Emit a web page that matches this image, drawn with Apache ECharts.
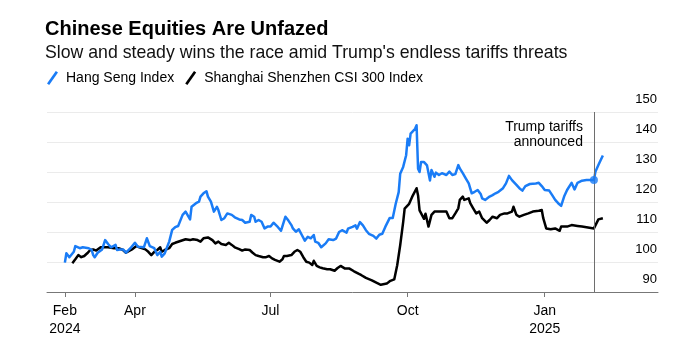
<!DOCTYPE html>
<html>
<head>
<meta charset="utf-8">
<script src="https://cdn.jsdelivr.net/npm/echarts@6/dist/echarts.min.js"></script>
<style>
  html, body { margin: 0; padding: 0; background: #fff; }
  #chart { width: 686px; height: 351px; }
</style>
</head>
<body>
<div id="chart"></div>
<script>
// Hang Seng Index, rebased
const hsDates = [
  '2024-02-14','2024-02-15','2024-02-17','2024-02-20','2024-02-21','2024-02-24','2024-02-26','2024-03-01',
  '2024-03-03','2024-03-04','2024-03-05','2024-03-07','2024-03-10','2024-03-12','2024-03-14','2024-03-16',
  '2024-03-19','2024-03-20','2024-03-22','2024-03-24','2024-03-26','2024-03-29','2024-04-01','2024-04-03',
  '2024-04-07','2024-04-09','2024-04-11','2024-04-14','2024-04-16','2024-04-18','2024-04-19','2024-04-21',
  '2024-04-24','2024-04-26','2024-04-28','2024-04-30','2024-05-03','2024-05-05','2024-05-06','2024-05-08',
  '2024-05-09','2024-05-12','2024-05-14','2024-05-15','2024-05-17','2024-05-19','2024-05-20','2024-05-22',
  '2024-05-24','2024-05-26','2024-05-27','2024-05-29','2024-05-31','2024-06-02','2024-06-05','2024-06-07',
  '2024-06-10','2024-06-12','2024-06-14','2024-06-17','2024-06-18','2024-06-20','2024-06-21','2024-06-23',
  '2024-06-25','2024-06-27','2024-06-29','2024-07-01','2024-07-03','2024-07-06','2024-07-08','2024-07-09',
  '2024-07-11','2024-07-13','2024-07-15','2024-07-16','2024-07-18','2024-07-20','2024-07-22','2024-07-24',
  '2024-07-26','2024-07-28','2024-07-30','2024-07-31','2024-08-02','2024-08-04','2024-08-07','2024-08-09',
  '2024-08-12','2024-08-14','2024-08-16','2024-08-18','2024-08-21','2024-08-22','2024-08-25','2024-08-27',
  '2024-08-28','2024-08-30','2024-09-01','2024-09-03','2024-09-05','2024-09-08','2024-09-10','2024-09-12',
  '2024-09-14','2024-09-16','2024-09-19','2024-09-21','2024-09-23','2024-09-25','2024-09-26','2024-09-28',
  '2024-09-30','2024-10-01','2024-10-02','2024-10-03','2024-10-06','2024-10-07','2024-10-08','2024-10-09',
  '2024-10-10','2024-10-12','2024-10-14','2024-10-16','2024-10-17','2024-10-19','2024-10-20','2024-10-22',
  '2024-10-24','2024-10-27','2024-10-29','2024-10-31','2024-11-02','2024-11-04','2024-11-05','2024-11-07',
  '2024-11-09','2024-11-11','2024-11-13','2024-11-15','2024-11-17','2024-11-19','2024-11-20','2024-11-22',
  '2024-11-25','2024-11-27','2024-11-29','2024-12-01','2024-12-04','2024-12-06','2024-12-08','2024-12-10',
  '2024-12-11','2024-12-13','2024-12-15','2024-12-17','2024-12-19','2024-12-22','2024-12-26','2024-12-28',
  '2024-12-30','2025-01-01','2025-01-04','2025-01-06','2025-01-08','2025-01-10','2025-01-12','2025-01-14',
  '2025-01-16','2025-01-19','2025-01-21','2025-01-23','2025-01-26','2025-01-29','2025-02-03','2025-02-04',
  '2025-02-06','2025-02-09'
];
const hsValues = [
  99.8, 102.9, 101.6, 103.4, 105.3, 104.6, 104.9, 104.6,
  104.0, 102.3, 101.6, 103.1, 104.2, 107.3, 106.0, 104.9,
  105.7, 104.0, 104.2, 104.2, 103.1, 104.6, 106.4, 105.1,
  104.9, 107.9, 105.3, 104.6, 102.3, 103.4, 101.8, 102.9,
  106.8, 110.7, 111.6, 112.0, 115.7, 116.8, 116.4, 114.2,
  118.4, 119.6, 120.1, 121.8, 122.9, 123.6, 121.8, 120.1,
  116.8, 118.4, 117.3, 114.0, 114.6, 116.2, 115.7, 114.9,
  114.2, 114.0, 113.1, 113.4, 115.7, 115.1, 113.4, 114.0,
  113.4, 111.2, 111.8, 111.8, 113.1, 111.6, 110.4, 110.1,
  115.1, 113.8, 112.3, 111.2, 110.1, 110.9, 109.0, 107.1,
  108.4, 107.9, 109.0, 106.8, 106.4, 104.9, 106.2, 107.6,
  107.3, 107.8, 110.0, 110.6, 109.8, 111.1, 111.7, 112.2,
  111.1, 113.3, 112.2, 110.6, 109.4, 108.7, 107.8, 109.1,
  109.4, 111.7, 114.7, 114.7, 119.4, 123.3, 129.4, 131.7,
  135.6, 141.1, 138.9, 142.8, 144.4, 145.6, 131.1, 130.0,
  133.3, 133.3, 132.2, 127.2, 130.7, 128.4, 129.8, 129.0,
  129.6, 129.0, 130.1, 129.0, 129.3, 132.3, 131.2, 129.6,
  127.9, 126.2, 122.9, 123.4, 124.0, 122.7, 121.2, 120.7,
  121.8, 122.3, 122.9, 123.4, 124.6, 126.2, 128.7, 127.3,
  126.8, 125.7, 124.6, 123.8, 125.3, 126.0, 126.2, 126.4,
  125.3, 124.0, 123.8, 122.3, 120.7, 119.6, 118.7, 121.8,
  124.0, 126.4, 124.2, 126.4, 127.1, 127.3, 127.3, 130.1,
  132.3, 135.5
];

// Shanghai Shenzhen CSI 300 Index, rebased
const csiDates = [
  '2024-02-19','2024-02-21','2024-02-23','2024-02-25','2024-02-27','2024-02-29','2024-03-02','2024-03-04',
  '2024-03-06','2024-03-09','2024-03-12','2024-03-14','2024-03-18','2024-03-21','2024-03-24','2024-03-26',
  '2024-03-30','2024-04-02','2024-04-04','2024-04-08','2024-04-10','2024-04-12','2024-04-14','2024-04-16',
  '2024-04-18','2024-04-19','2024-04-21','2024-04-24','2024-04-26','2024-04-28','2024-05-02','2024-05-05',
  '2024-05-08','2024-05-10','2024-05-13','2024-05-15','2024-05-17','2024-05-20','2024-05-23','2024-05-25',
  '2024-05-27','2024-05-29','2024-06-01','2024-06-03','2024-06-05','2024-06-07','2024-06-10','2024-06-12',
  '2024-06-14','2024-06-17','2024-06-19','2024-06-21','2024-06-23','2024-06-26','2024-06-28','2024-06-30',
  '2024-07-02','2024-07-04','2024-07-07','2024-07-09','2024-07-10','2024-07-12','2024-07-15','2024-07-17',
  '2024-07-19','2024-07-21','2024-07-23','2024-07-25','2024-07-27','2024-07-29','2024-07-30','2024-08-01',
  '2024-08-03','2024-08-05','2024-08-08','2024-08-10','2024-08-13','2024-08-15','2024-08-17','2024-08-20',
  '2024-08-23','2024-08-26','2024-08-29','2024-08-31','2024-09-03','2024-09-07','2024-09-10','2024-09-13',
  '2024-09-17','2024-09-19','2024-09-22','2024-09-24','2024-09-26','2024-09-28','2024-09-29','2024-10-02',
  '2024-10-04','2024-10-07','2024-10-08','2024-10-09','2024-10-10','2024-10-12','2024-10-13','2024-10-15',
  '2024-10-17','2024-10-19','2024-10-20','2024-10-22','2024-10-24','2024-10-27','2024-10-29','2024-10-31',
  '2024-11-02','2024-11-04','2024-11-05','2024-11-07','2024-11-08','2024-11-11','2024-11-12','2024-11-14',
  '2024-11-16','2024-11-18','2024-11-20','2024-11-23','2024-11-25','2024-11-27','2024-11-30','2024-12-02',
  '2024-12-05','2024-12-07','2024-12-10','2024-12-11','2024-12-13','2024-12-15','2024-12-18','2024-12-21',
  '2024-12-24','2024-12-28','2024-12-30','2024-12-31','2025-01-02','2025-01-05','2025-01-08','2025-01-11',
  '2025-01-12','2025-01-16','2025-01-19','2025-01-23','2025-01-26','2025-01-29','2025-02-03','2025-02-04',
  '2025-02-06','2025-02-09'
];
const csiValues = [
  99.6, 100.9, 102.3, 101.6, 102.0, 102.9, 104.0, 104.2,
  103.8, 104.9, 104.9, 104.9, 104.6, 104.6, 104.0, 103.1,
  104.2, 105.3, 104.9, 104.2, 103.4, 102.3, 103.4, 104.0,
  104.9, 103.4, 104.0, 104.6, 106.0, 106.4, 107.1, 107.6,
  107.3, 107.6, 107.3, 106.8, 107.9, 108.2, 107.3, 106.2,
  106.8, 106.0, 105.7, 106.4, 105.7, 104.9, 104.3, 103.8,
  104.2, 104.0, 103.1, 102.3, 102.0, 101.6, 101.6, 102.0,
  101.2, 100.7, 100.1, 100.9, 102.0, 102.0, 102.3, 103.4,
  104.0, 103.4, 101.6, 100.1, 99.8, 99.0, 100.4, 98.7,
  98.2, 97.9, 97.6, 97.6, 97.1, 98.0, 98.7, 97.8,
  97.8, 96.9, 96.1, 95.6, 94.7, 93.9, 93.1, 92.4,
  92.8, 93.6, 94.2, 98.9, 105.6, 113.3, 117.8, 119.4,
  121.7, 124.6, 122.2, 117.2, 116.7, 114.4, 116.1, 111.8,
  115.7, 116.8, 116.2, 116.8, 116.8, 116.8, 114.6, 114.6,
  116.2, 117.9, 120.7, 121.8, 120.7, 121.2, 119.6, 117.9,
  116.2, 116.8, 114.6, 113.1, 114.0, 115.1, 114.6, 115.7,
  116.2, 116.2, 116.8, 118.4, 115.7, 115.1, 115.7, 116.2,
  116.8, 117.1, 117.3, 114.6, 111.2, 110.9, 111.2, 110.4,
  111.8, 111.8, 112.3, 112.0, 111.8, 111.6, 111.2, 111.6,
  114.2, 114.6
];

const tickDates = ['2024-02-14', '2024-04-01', '2024-07-01', '2024-10-01', '2025-01-01'];
const tickLabels = ['Feb\n2024', 'Apr', 'Jul', 'Oct', 'Jan\n2025'];

const tariffDate = '2025-02-03';
const tariffValue = 127.3;
const tariffText = 'Trump tariffs\nannounced';

const font = "'Liberation Sans', Arial, sans-serif";
const blue = '#1a7cf6';

// dates -> timestamps, the x axis is a plain value axis over time
const toTime = (s) => echarts.time.parse(s).getTime();
const tickTimes = tickDates.map(toTime);

const myChart = echarts.init(document.getElementById('chart'));

const option = {
  animation: false,
  backgroundColor: '#fff',
  title: [
    {
      text: 'Chinese Equities Are Unfazed',
      left: 45,
      top: 18,
      padding: 0,
      textStyle: { fontFamily: font, fontSize: 20, fontWeight: 'bold', color: '#000', lineHeight: 22 },
    },
    {
      text: "Slow and steady wins the race amid Trump's endless tariffs threats",
      left: 45,
      top: 43,
      padding: 0,
      textStyle: { fontFamily: font, fontSize: 17.7, fontWeight: 'normal', color: '#111', lineHeight: 20 },
    },
  ],
  legend: {
    data: ['Hang Seng Index', 'Shanghai Shenzhen CSI 300 Index'],
    left: 42,
    top: 66,
    itemWidth: 11,
    itemHeight: 14,
    itemGap: 11,
    icon: 'path://M0,12.6L8.8,0L11,1.4L2.2,14Z',
    selectedMode: false,
    textStyle: { fontFamily: font, fontSize: 14, color: '#000', lineHeight: 14, padding: [0, 0, 0, 3] },
  },
  grid: {
    left: 47,
    right: 28,
    top: 112,
    bottom: 59,
    containLabel: false,
    outerBoundsMode: 'none',
  },
  xAxis: {
    type: 'value',
    min: toTime('2024-02-02'),
    max: toTime('2025-03-18'),
    axisLine: { show: true, lineStyle: { color: '#777', width: 1 } },
    axisTick: { show: true, length: 5, lineStyle: { color: '#777' }, customValues: tickTimes },
    splitLine: { show: false },
    axisLabel: {
      customValues: tickTimes,
      margin: 10,
      fontFamily: font,
      fontSize: 14,
      lineHeight: 18,
      color: '#000',
      formatter: (v) => {
        const i = tickTimes.indexOf(v);
        return i >= 0 ? tickLabels[i] : '';
      },
    },
  },
  yAxis: {
    type: 'value',
    position: 'right',
    min: 90,
    max: 150,
    interval: 10,
    axisLine: { show: false },
    axisTick: { show: false },
    splitLine: { show: true, lineStyle: { color: '#ebebeb', width: 1 } },
    axisLabel: {
      inside: true,
      margin: 1,
      verticalAlign: 'bottom',
      padding: [0, 0, 6, 0],
      fontFamily: font,
      fontSize: 13,
      lineHeight: 13,
      color: '#000',
    },
  },
  series: [
    {
      name: 'Shanghai Shenzhen CSI 300 Index',
      type: 'line',
      data: csiDates.map((d, i) => [toTime(d), csiValues[i]]),
      showSymbol: false,
      symbol: 'none',
      color: '#000',
      itemStyle: { color: '#000' },
      lineStyle: { color: '#000', width: 2.5, join: 'round' },
      z: 2,
    },
    {
      name: 'Hang Seng Index',
      type: 'line',
      data: hsDates.map((d, i) => [toTime(d), hsValues[i]]),
      showSymbol: false,
      symbol: 'none',
      color: blue,
      itemStyle: { color: blue },
      lineStyle: { color: blue, width: 2.5, join: 'round' },
      z: 3,
    },
    {
      name: 'tariff',
      type: 'scatter',
      data: [[toTime(tariffDate), tariffValue]],
      symbolSize: 8,
      itemStyle: { color: blue },
      z: 5,
      silent: true,
      markLine: {
        silent: true,
        symbol: ['none', 'none'],
        lineStyle: { color: '#6e6e6e', width: 1, type: 'solid' },
        label: {
          show: true,
          position: 'end',
          distance: 0,
          formatter: tariffText,
          align: 'right',
          verticalAlign: 'top',
          padding: [8, 11, 0, 0],
          fontFamily: font,
          fontSize: 14,
          lineHeight: 15,
          color: '#000',
        },
        data: [{ xAxis: toTime(tariffDate) }],
      },
    },
  ],
};

myChart.setOption(option);
window.onresize = function () {
  myChart.resize();
};
</script>
</body>
</html>
